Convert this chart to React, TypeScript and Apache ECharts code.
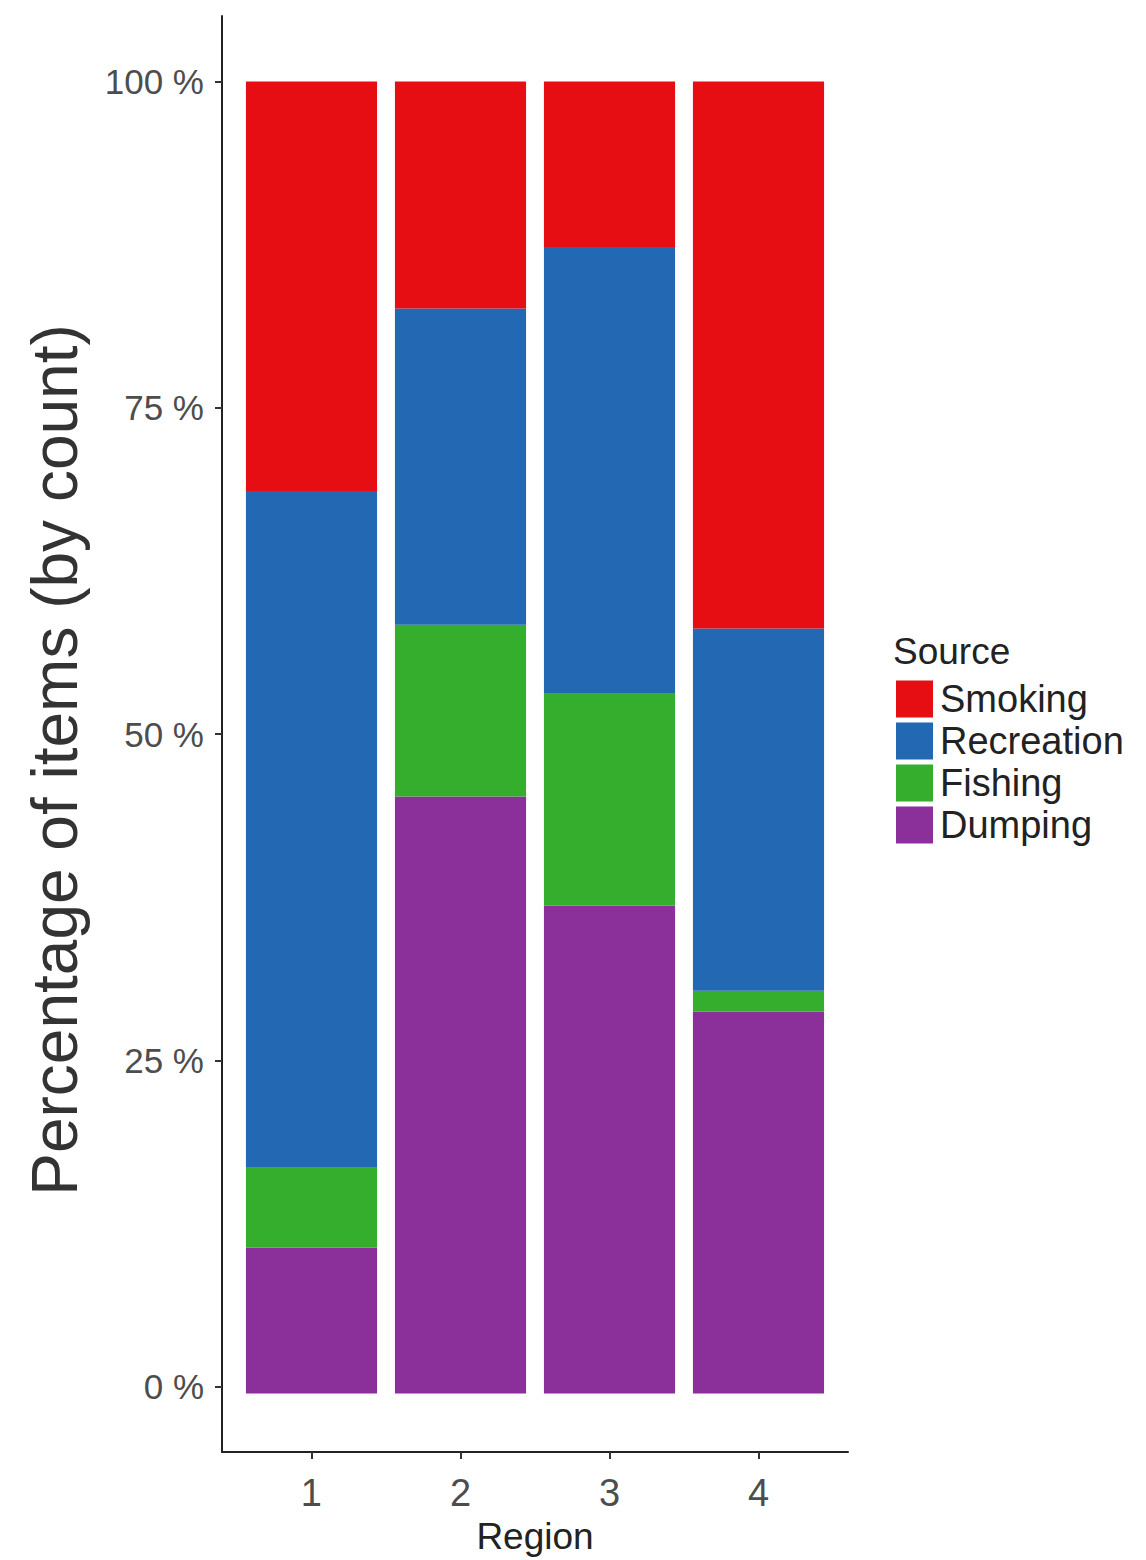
import React, { useEffect, useRef } from "react";
import * as echarts from "echarts";

const regions = ["1", "2", "3", "4"];
const regionTicks = [1, 2, 3, 4];
const dumping = [11.1, 45.5, 37.2, 29.1];
const fishing = [6.1, 13.1, 16.2, 1.6];
const recreation = [51.6, 24.1, 34.0, 27.6];
const smoking = [31.2, 17.3, 12.6, 41.7];
const yTicks = [0, 25, 50, 75, 100];

const colors = {
  Smoking: "#e60d13",
  Recreation: "#2268b2",
  Fishing: "#35ad2d",
  Dumping: "#8b2f9b",
};

const FONT = "Liberation Sans, Arial, sans-serif";

export default function App() {
  const ref = useRef<HTMLDivElement>(null);
  useEffect(() => {
    if (!ref.current) return;
    const chart = echarts.init(ref.current, null, { renderer: "svg" });
    const mk = (name: string, vals: number[]) => ({
      name,
      type: "bar",
      stack: "total",
      xAxisIndex: 1,
      yAxisIndex: 1,
      barWidth: "88%",
      itemStyle: { color: (colors as any)[name] },
      data: vals,
    });
    chart.setOption({
      animation: false,
      backgroundColor: "#ffffff",
      textStyle: { fontFamily: FONT },
      title: {
        text: "Source",
        left: 893,
        top: 633,
        textStyle: { fontFamily: FONT, fontSize: 37, fontWeight: "normal", color: "#222" },
        padding: 0,
      },
      legend: {
        orient: "vertical",
        left: 896,
        top: 680,
        itemWidth: 37,
        itemHeight: 37,
        itemGap: 4,
        padding: 0,
        icon: "rect",
        data: ["Smoking", "Recreation", "Fishing", "Dumping"],
        textStyle: { fontFamily: FONT, fontSize: 38, color: "#222", padding: [0, 0, 0, 2], lineHeight: 37 },
      },
      grid: [
        { left: 222, right: 298, top: 16, bottom: 101, containLabel: false },
        { left: 237, right: 313, top: 16, bottom: 101, containLabel: false },
      ],
      xAxis: [
        {
          type: "value",
          gridIndex: 0,
          min: 0.4,
          max: 4.6,
          name: "Region",
          nameLocation: "middle",
          nameGap: 66,
          nameTextStyle: { fontFamily: FONT, fontSize: 37, color: "#222" },
          axisLine: { show: true, onZero: false, lineStyle: { color: "#222", width: 2 } },
          axisTick: { show: true, customValues: regionTicks, length: 7, lineStyle: { color: "#333", width: 2 } },
          axisLabel: {
            customValues: regionTicks,
            fontFamily: FONT,
            fontSize: 38,
            color: "#4d4d4d",
            margin: 22,
          },
          splitLine: { show: false },
        },
        {
          type: "category",
          gridIndex: 1,
          data: regions,
          axisLine: { show: false },
          axisTick: { show: false },
          axisLabel: { show: false },
          splitLine: { show: false },
        },
      ],
      yAxis: [
        {
          type: "value",
          gridIndex: 0,
          min: -5,
          max: 105,
          name: "Percentage of items (by count)",
          nameLocation: "middle",
          nameRotate: 90,
          nameGap: 135,
          nameTextStyle: { fontFamily: FONT, fontSize: 64, color: "#333", padding: [0, 52, 0, 0] },
          axisLine: { show: true, onZero: false, lineStyle: { color: "#222", width: 2 } },
          axisTick: { show: true, customValues: yTicks, length: 7, lineStyle: { color: "#333", width: 2 } },
          axisLabel: {
            customValues: yTicks,
            formatter: (v: number) => `${v} %`,
            fontFamily: FONT,
            fontSize: 35,
            color: "#4d4d4d",
            margin: 18,
          },
          splitLine: { show: false },
        },
        {
          type: "value",
          gridIndex: 1,
          min: -5,
          max: 105,
          show: false,
          splitLine: { show: false },
        },
      ],
      series: [
        mk("Dumping", dumping),
        mk("Fishing", fishing),
        mk("Recreation", recreation),
        mk("Smoking", smoking),
      ],
    });
    return () => chart.dispose();
  }, []);
  return (
    <div
      ref={ref}
      style={{ position: "absolute", left: 0, top: 0, width: 1146, height: 1560, background: "#fff" }}
    />
  );
}
